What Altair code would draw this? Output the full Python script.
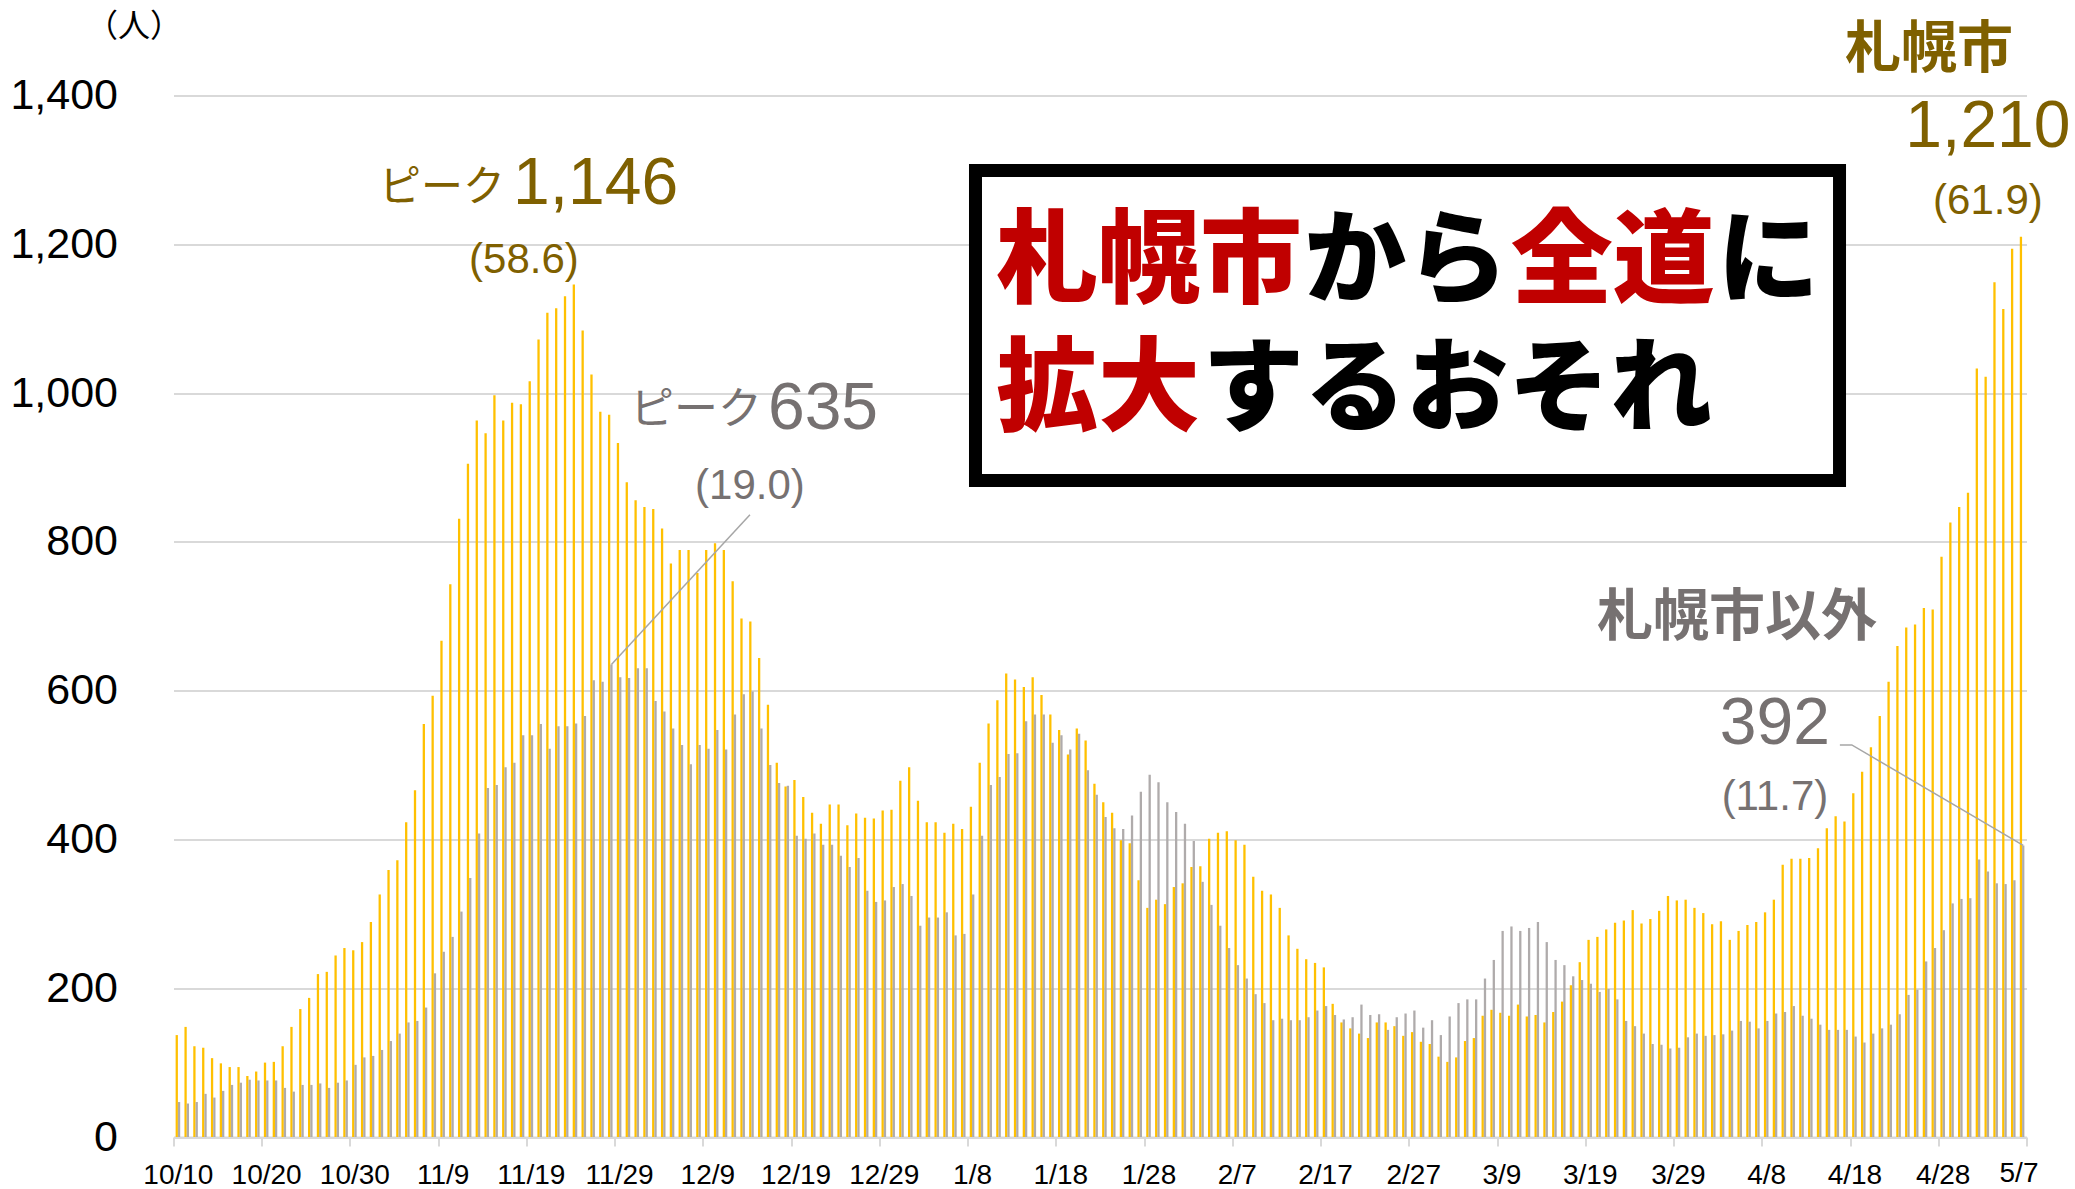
import altair as alt
import pandas as pd

# ---------------- data ----------------
TICK_LABELS = ["10/10", "10/20", "10/30", "11/9", "11/19", "11/29", "12/9", "12/19",
               "12/29", "1/8", "1/18", "1/28", "2/7", "2/17", "2/27", "3/9", "3/19",
               "3/29", "4/8", "4/18", "4/28", ""]
TICK_DAYS = [0, 10, 20, 30, 40, 50, 60, 70, 80, 90, 100, 110, 120, 130, 140, 150,
             160, 170, 180, 190, 200, 210]
LAST_LABEL = "5/7"
Y_TICKS = [0, 200, 400, 600, 800, 1000, 1200, 1400]

SERIES = ["札幌市", "札幌市以外"]

SAPPORO = [
    137, 148, 122, 120, 106, 99, 94, 94, 82, 88,
    100, 101, 122, 148, 172, 187, 219, 222, 244, 254,
    251, 262, 289, 326, 359, 372, 423, 466, 555, 593,
    667, 743, 831, 905, 963, 946, 997, 963, 987, 985,
    1016, 1072, 1108, 1114, 1130, 1146, 1084, 1025, 975, 971,
    933, 880, 856, 847, 844, 818, 771, 789, 789, 758,
    789, 798, 789, 747, 697, 693, 644, 581, 503, 471,
    480, 457, 436, 421, 447, 447, 419, 435, 429, 428,
    439, 440, 479, 497, 452, 423, 423, 409, 421, 414,
    444, 503, 556, 587, 623, 615, 605, 618, 594, 568,
    547, 514, 549, 533, 475, 450, 436, 399, 395, 345,
    308, 319, 313, 336, 341, 363, 364, 401, 409, 411,
    399, 393, 350, 331, 326, 308, 271, 253, 239, 234,
    228, 179, 154, 146, 139, 133, 154, 154, 149, 136,
    141, 128, 125, 108, 101, 107, 129, 133, 163, 171,
    167, 163, 178, 162, 164, 154, 168, 182, 204, 235,
    265, 269, 279, 288, 291, 305, 287, 293, 304, 324,
    318, 319, 308, 301, 286, 290, 265, 277, 285, 289,
    302, 319, 366, 374, 374, 375, 388, 415, 431, 424,
    462, 491, 524, 566, 612, 660, 685, 689, 711, 709,
    780, 826, 847, 866, 1033, 1022, 1149, 1113, 1194, 1210,
]

OTHER = [
    47, 45, 47, 58, 53, 62, 70, 73, 77, 76,
    76, 76, 66, 61, 70, 70, 72, 66, 73, 76,
    97, 107, 109, 117, 129, 139, 154, 156, 174, 220,
    249, 269, 303, 348, 408, 469, 473, 497, 503, 540,
    540, 555, 522, 552, 552, 556, 566, 614, 612, 635,
    618, 617, 630, 630, 586, 572, 549, 527, 501, 527,
    522, 547, 521, 568, 595, 599, 549, 500, 476, 472,
    405, 401, 408, 393, 393, 378, 363, 375, 331, 316,
    318, 336, 340, 324, 284, 295, 295, 302, 271, 273,
    326, 405, 473, 484, 515, 516, 559, 568, 568, 530,
    540, 521, 542, 493, 460, 430, 415, 414, 432, 464,
    487, 477, 450, 437, 421, 398, 343, 312, 284, 254,
    231, 213, 192, 180, 157, 159, 157, 157, 161, 170,
    176, 164, 158, 161, 178, 164, 165, 144, 161, 166,
    170, 147, 157, 137, 162, 180, 185, 185, 213, 238,
    277, 283, 277, 281, 289, 262, 238, 231, 216, 211,
    206, 195, 199, 185, 156, 149, 139, 125, 124, 119,
    120, 134, 139, 136, 137, 138, 143, 156, 155, 146,
    156, 166, 168, 176, 163, 159, 151, 144, 144, 144,
    135, 127, 139, 146, 151, 165, 191, 198, 236, 254,
    278, 314, 320, 321, 373, 357, 341, 340, 345, 392,
]

# ---------------- styling ----------------
GOLD = "#FFC000"
GRAY = "#AFABAB"
GOLD_TXT = "#7F6000"
GRAY_TXT = "#767171"
RED = "#C00000"
GRID = "#D9D9D9"
NUM_FONT = "Liberation Sans, Arial, sans-serif"
JP_FONT = "Noto Sans CJK JP, sans-serif"

XS = alt.Scale(domain=[0, 210], nice=False, zero=False)
YS = alt.Scale(domain=[0, 1400], nice=False, zero=True)

N = len(SAPPORO)
bars_df = pd.DataFrame({
    "day": list(range(N)) * 2,
    "series": [SERIES[0]] * N + [SERIES[1]] * N,
    "value": SAPPORO + OTHER,
})

label_expr = "[" + ",".join("'" + s + "'" for s in TICK_LABELS) + "][datum.value / 10]"

x_axis = alt.Axis(
    values=TICK_DAYS, labelExpr=label_expr, title=None, grid=False,
    domainColor=GRID, domainWidth=2, tickColor=GRID, tickWidth=2, tickSize=9,
    labelFont=NUM_FONT, labelFontSize=28, labelColor="black", labelPadding=15,
    labelFlush=False, labelOverlap=False, labelBound=False, labelOffset=4.4,
)
y_axis = alt.Axis(
    values=Y_TICKS, format=",d", title=None, domain=False, ticks=False,
    gridColor=GRID, gridWidth=2, labelFont=NUM_FONT, labelFontSize=43,
    labelColor="black", labelPadding=56,
)

bars = alt.Chart(bars_df).transform_calculate(
    x0="datum.day + (datum.series == '札幌市' ? 0.24 : 0.5)"
).transform_calculate(
    x1="datum.x0 + 0.26"
).mark_bar().encode(
    x=alt.X("x0:Q", scale=XS, axis=x_axis),
    x2="x1:Q",
    y=alt.Y("value:Q", scale=YS, axis=y_axis),
    y2=alt.datum(0),
    color=alt.Color("series:N", scale=alt.Scale(domain=SERIES, range=[GOLD, GRAY]), legend=None),
)


def pos():
    return dict(x=alt.X("x:Q", scale=XS, axis=None), y=alt.Y("y:Q", scale=YS, axis=None))


# leader lines to the peak / latest values
lead1 = alt.Chart(pd.DataFrame({"x": [49.63, 65.33], "y": [635, 836.4]})).mark_line(
    color="#A6A6A6", strokeWidth=1.5).encode(**pos())
lead2 = alt.Chart(pd.DataFrame({"x": [188.85, 190.2, 209.63], "y": [527, 527, 392], "o": [0, 1, 2]})).mark_line(
    color="#A6A6A6", strokeWidth=1.5).encode(order="o:O", **pos())

# title box
box = alt.Chart(pd.DataFrame({"x": [90.89], "x2": [188.81], "y": [1299.2], "y2": [882.5]})).mark_rect(
    fill="white", stroke="black", strokeWidth=13
).encode(x=alt.X("x:Q", scale=XS, axis=None), x2="x2:Q",
         y=alt.Y("y:Q", scale=YS, axis=None), y2="y2:Q")


def label(text, x, y, size, color, weight="normal", font=NUM_FONT, align="center"):
    return alt.Chart(pd.DataFrame({"t": [text], "x": [x], "y": [y]})).mark_text(
        fontSize=size, color=color, fontWeight=weight, font=font, align=align, baseline="middle"
    ).encode(text="t:N", **pos())


texts = [
    label("（人）", -4.48, 1492.0, 32, "black", font=JP_FONT),
    # last x tick label (placed on its day)
    label(LAST_LABEL, 209.15, -50.0, 28, "black"),
    # Sapporo peak
    label("ピーク", 37.57, 1275.0, 42, GOLD_TXT, font=JP_FONT, align="right"),
    label("1,146", 38.48, 1281.0, 66, GOLD_TXT, align="left"),
    label("(58.6)", 39.72, 1178.5, 42, GOLD_TXT),
    # outside-Sapporo peak
    label("ピーク", 66.7, 976.0, 44, GRAY_TXT, font=JP_FONT, align="right"),
    label("635", 67.37, 978.5, 66, GRAY_TXT, align="left"),
    label("(19.0)", 65.33, 875.0, 42, GRAY_TXT),
    # latest Sapporo
    label("札幌市", 198.95, 1461.8, 56, GOLD_TXT, weight="bold", font=JP_FONT),
    label("1,210", 205.63, 1358.0, 66, GOLD_TXT),
    label("(61.9)", 205.63, 1258.0, 42, GOLD_TXT),
    # latest outside Sapporo
    label("札幌市以外", 177.18, 697.0, 56, GRAY_TXT, weight="bold", font=JP_FONT),
    label("392", 181.49, 555.7, 66, GRAY_TXT),
    label("(11.7)", 181.49, 457.0, 42, GRAY_TXT),
    # boxed headline
    label("札幌市", 93.2, 1174.0, 102, RED, weight=900, font=JP_FONT, align="left"),
    label("から", 128.15, 1174.0, 102, "black", weight=900, font=JP_FONT, align="left"),
    label("全道", 151.55, 1174.0, 102, RED, weight=900, font=JP_FONT, align="left"),
    label("に", 174.95, 1174.0, 102, "black", weight=900, font=JP_FONT, align="left"),
    label("拡大", 93.2, 1002.0, 102, RED, weight=900, font=JP_FONT, align="left"),
    label("するおそれ", 116.6, 1002.0, 102, "black", weight=900, font=JP_FONT, align="left"),
]

chart = alt.layer(bars, lead1, lead2, box, *texts).resolve_axis(
    x="independent", y="independent"
).properties(
    width=1853, height=1041.5,
    padding={"left": 173.5, "top": 95.5, "right": 48.5, "bottom": 52},
    autosize="none",
).configure(background="white").configure_view(strokeWidth=0)

chart.save("out.html", embed_options={"renderer": "svg", "actions": False})
